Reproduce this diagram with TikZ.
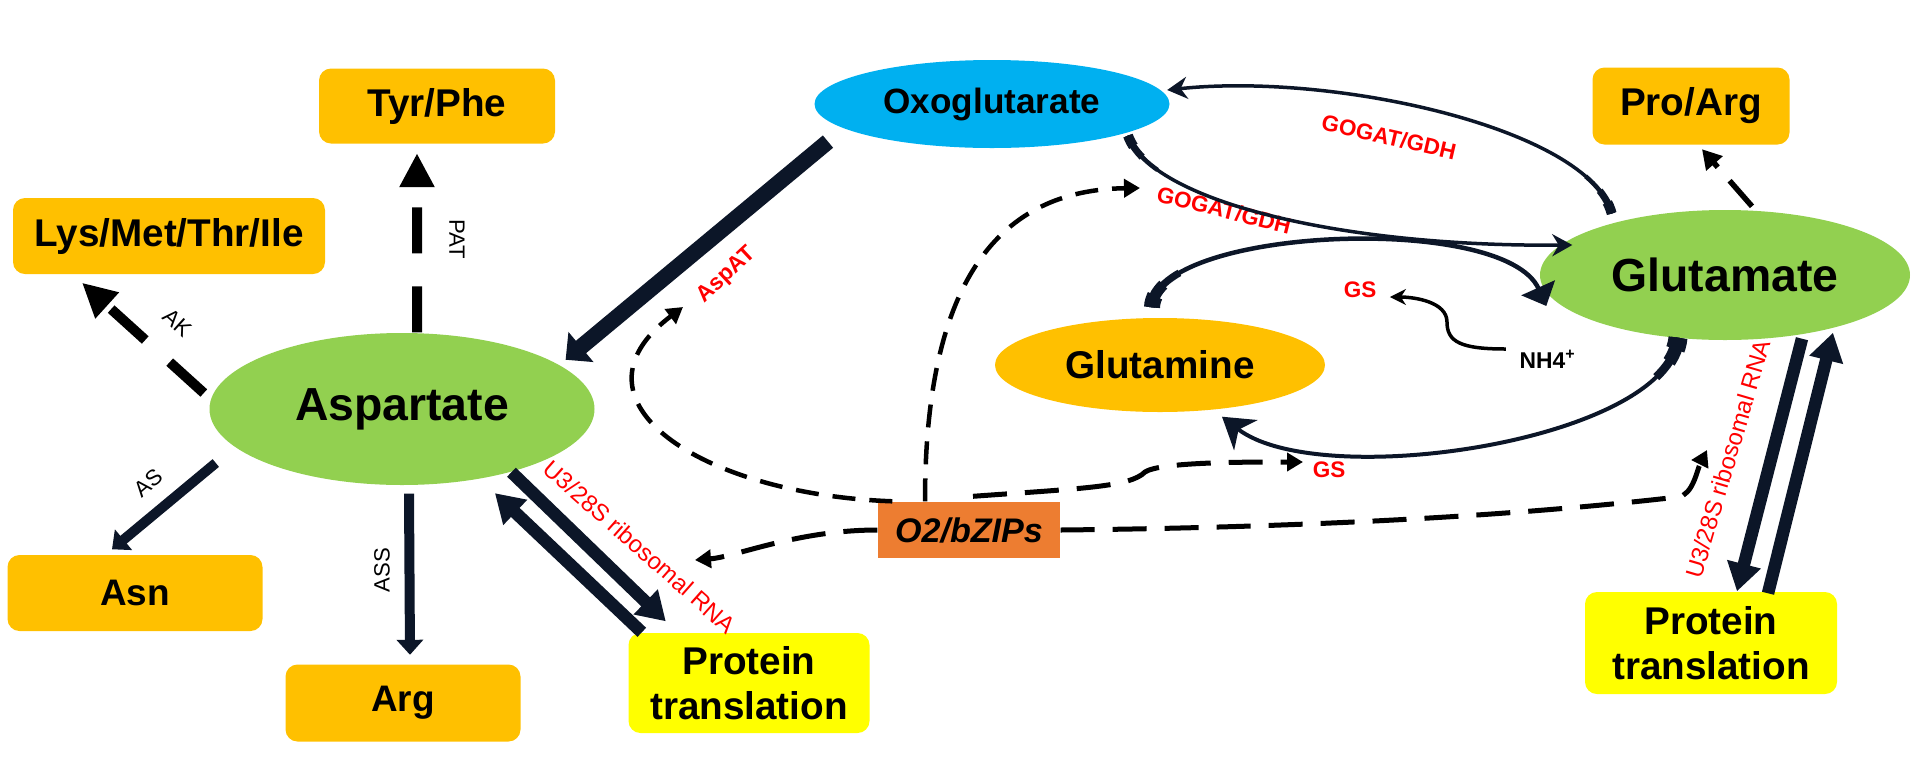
\documentclass[tikz,border=0pt]{standalone}
\usepackage{fontspec}
\setmainfont{Liberation Sans}
\usetikzlibrary{shapes.geometric, arrows.meta}

\definecolor{aminoorange}{RGB}{255,192,0}
\definecolor{transyellow}{RGB}{255,255,0}
\definecolor{leafgreen}{RGB}{146,208,80}
\definecolor{skyblue}{RGB}{0,176,240}
\definecolor{zipsorange}{RGB}{237,125,49}
\definecolor{ink}{RGB}{12,22,40}

\tikzset{
  aminobox/.style={fill=aminoorange, rounded corners=1.2mm, inner sep=0pt, align=center, font=\bfseries\fontsize{11}{12.8}\selectfont},
  transbox/.style={aminobox, fill=transyellow},
  metab/.style={ellipse, inner sep=0pt, font=\bfseries\fontsize{13.2}{15}\selectfont},
  enzyme/.style={inner sep=0pt, font=\fontsize{6.3}{7}\selectfont},
  redlabel/.style={inner sep=0pt, text=red, font=\bfseries\fontsize{6.4}{7}\selectfont},
  rnalabel/.style={inner sep=0pt, text=red, font=\fontsize{6.8}{8}\selectfont},
  fatarrow/.style={draw=ink, line width=1.25mm, -{Triangle[length=2.8mm, width=3.3mm]}},
  thinarrow/.style={draw=ink, line width=1mm, -{Triangle[length=1.5mm, width=2.6mm]}},
  bigdash/.style={draw=black, line width=1mm, dash pattern=on 4.6mm off 3.3mm, -{Triangle[length=3.4mm, width=3.3mm]}},
  smalldash/.style={draw=black, line width=0.45mm, dash pattern=on 2.3mm off 1.4mm, -{Triangle[length=1.6mm, width=1.8mm]}},
  longdash/.style={smalldash, line width=0.5mm, dash pattern=on 3.4mm off 1.8mm},
  loopline/.style={draw=ink, line width=0.35mm},
  taper/.style={preaction={draw=ink, arrows=-, line width=#1, dash pattern=on 1.2mm off 300mm},
    preaction={draw=ink, arrows=-, line width=0.7*#1, dash pattern=on 2.6mm off 300mm},
    preaction={draw=ink, arrows=-, line width=0.45*#1, dash pattern=on 4.6mm off 300mm}}
}

\begin{document}
\begin{tikzpicture}[x=0.1mm, y=-0.1mm]
    \useasboundingbox (0,0) rectangle (1914,758);

    \node (tyrphe) [aminobox, minimum width=23.6mm, minimum height=7.5mm] at (437,106) {Tyr/Phe};
    \node (lys) [aminobox, minimum width=31.2mm, minimum height=7.6mm] at (169,236) {Lys/Met/Thr/Ile};
    \node (asn) [aminobox, minimum width=25.5mm, minimum height=7.6mm, font=\bfseries\fontsize{10.5}{12}\selectfont] at (135,593) {Asn};
    \node (arg) [aminobox, minimum width=23.5mm, minimum height=7.7mm, font=\bfseries\fontsize{10.5}{12}\selectfont] at (403,703) {Arg};
    \node (protL) [transbox, minimum width=24.1mm, minimum height=10mm] at (749,683) {Protein\\translation};
    \node (asp) [metab, fill=leafgreen, minimum width=38.5mm, minimum height=15.2mm] at (402,409) {Aspartate};
    \node (oxo) [metab, fill=skyblue, minimum width=35.5mm, minimum height=8.8mm, font=\bfseries\fontsize{10}{12}\selectfont] at (992,104) {Oxoglutarate};
    \node (glu) [metab, fill=leafgreen, minimum width=37mm, minimum height=13mm] at (1725,275) {Glutamate};
    \node (gln) [metab, fill=aminoorange, minimum width=33mm, minimum height=9.4mm, font=\bfseries\fontsize{11}{12.8}\selectfont] at (1160,365) {Glutamine};
    \node (proarg) [aminobox, minimum width=19.7mm, minimum height=7.7mm] at (1691,106) {Pro/Arg};
    \node (protR) [transbox, minimum width=25.2mm, minimum height=10.2mm] at (1711,643) {Protein\\translation};
    \node (o2) [fill=zipsorange, minimum width=18.2mm, minimum height=5.6mm, inner sep=0pt, font=\bfseries\itshape\fontsize{9.7}{11}\selectfont] at (969,530) {O2/bZIPs};

    \foreach \name/\px/\py/\ang/\txt in {pat/457/239/-90/PAT, ak/178/323/-42/AK, as/148/483/40/AS, ass/382/570/90/ASS}
    \node (\name) [enzyme, rotate=\ang] at (\px,\py) {\txt};
    \node (aspat) [redlabel, rotate=43] at (727,275) {AspAT};
    \node (gogatup) [redlabel, rotate=-13] at (1389,137) {GOGAT/GDH};
    \node (gogatlow) [redlabel, rotate=-14] at (1224,210) {GOGAT/GDH};
    \node (gsup) [redlabel] at (1360,290) {GS};
    \node (gslow) [redlabel] at (1329,470) {GS};
    \node (nh4) [inner sep=0pt, font=\bfseries\fontsize{6.5}{7}\selectfont] at (1548,359) {NH4\textsuperscript{+}};
    \node (rnaL) [rnalabel, rotate=-41.5] at (640,547) {U3/28S ribosomal RNA};
    \node (rnaR) [rnalabel, rotate=73.6] at (1728,459) {U3/28S ribosomal RNA};

    \coordinate (asptip) at (683,307);
    \coordinate (gogattip) at (1140,188);
    \coordinate (gstip) at (1303,462);
    \coordinate (rnatipL) at (695,560);
    \coordinate (rnatipR) at (1707,450);

    \draw[bigdash] ([xshift=1.5mm]asp.north) -- ([xshift=-2mm, yshift=-0.9mm]tyrphe.south);
    \draw[bigdash] ([xshift=-0.5mm, yshift=1.6mm]asp.west) -- ([xshift=-8.7mm, yshift=-0.8mm]lys.south);
    \draw[thinarrow] ([xshift=0.7mm, yshift=-5.4mm]asp.west) -- ([xshift=-2.3mm, yshift=0.5mm]asn.north);
    \draw[thinarrow] ([xshift=0.7mm, yshift=-0.8mm]asp.south) -- ([xshift=0.7mm, yshift=0.9mm]arg.north);
    \draw[fatarrow] (asp.-30) -- ([xshift=3.8mm, yshift=1.1mm]protL.north west);
    \draw[fatarrow] ([xshift=1.4mm]protL.north west) -- ([xshift=1.5mm, yshift=-1.4mm]asp.-42);
    \draw[fatarrow, line width=1.6mm, -{Triangle[length=2mm, width=3.8mm]}] ([xshift=-3.8mm, yshift=-0.6mm]oxo.south west) -- ([xshift=2.7mm, yshift=-0.5mm]asp.north east);

    \draw[longdash, line width=0.55mm, -{Triangle[length=1.9mm, width=2.1mm]}] ([xshift=2.7mm, yshift=0.3mm]glu.north) -- ([xshift=1.1mm, yshift=-0.4mm]proarg.south);
    \draw[fatarrow] ([xshift=7.7mm, yshift=0.2mm]glu.south) -- ([xshift=2.6mm]protR.north);
    \draw[fatarrow] ([xshift=5.7mm, yshift=-0.2mm]protR.north) -- ([xshift=10.8mm, yshift=0.8mm]glu.south);

    \draw[loopline, taper=1mm, -{Stealth[length=2mm, width=2.2mm]}] ([xshift=1.8mm, yshift=1.5mm]glu.north west) .. controls +(-22,-84) and +(169,-18) .. ([xshift=-0.3mm, yshift=1.4mm]oxo.east);
    \draw[loopline, taper=1mm, -{Stealth[length=2mm, width=2.2mm]}] ([xshift=1mm]oxo.south east) .. controls +(23,65) and +(-233,2) .. ([xshift=3.3mm, yshift=3mm]glu.west);
    \draw[loopline, line width=0.45mm, taper=1.6mm, -{Triangle[length=2mm, width=3.6mm]}] ([xshift=-0.8mm, yshift=1mm]gln.north) .. controls +(3,-80) and +(-42,-94) .. ([xshift=0.7mm, yshift=-3.1mm]glu.west);
    \draw[loopline, line width=0.4mm, taper=1.9mm, -{Stealth[length=3mm, width=3.8mm, inset=0.9mm]}] ([xshift=-4.7mm, yshift=0.3mm]glu.south) .. controls +(-10,103) and +(98,76) .. ([xshift=6.2mm, yshift=-0.4mm]gln.south);
    \draw[black, line width=0.35mm, -{Stealth[length=1.6mm, width=1.6mm]}] ([xshift=-1.3mm, yshift=1mm]nh4.west) .. controls +(-45,0) and +(0,20) .. (1447,322) .. controls +(0,-20) and +(25,0) .. ([xshift=1.3mm, yshift=-0.7mm]gsup.east);

    \draw[smalldash] ([xshift=1.5mm]o2.north west) .. controls +(-193,-7) and +(-123,93) .. (asptip);
    \draw[smalldash] ([xshift=-4.4mm]o2.north) .. controls +(0,-222) and +(-140,2) .. (gogattip);
    \draw[longdash] ([xshift=0.4mm, yshift=0.5mm]o2.north) .. controls +(110,-8) and +(-15,15) .. (1145,472) .. controls +(15,-10) and +(-60,0) .. (gstip);
    \draw[longdash] (o2.west) .. controls +(-80,0) and +(40,-3) .. (rnatipL);
    \draw[longdash] (o2.east) .. controls +(290,-3) and +(-130,15) .. (1678,497) .. controls +(15,-2) and +(-10,20) .. (rnatipR);
\end{tikzpicture}
\end{document}
